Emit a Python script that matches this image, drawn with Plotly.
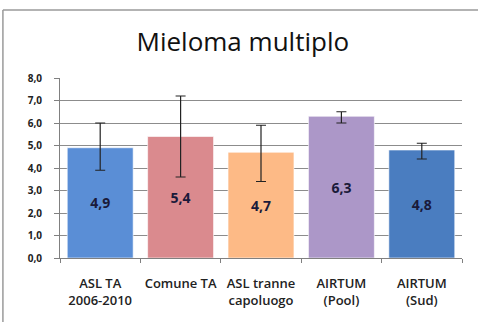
import plotly.graph_objects as go

categorie = ['ASL TA<br>2006-2010', 'Comune TA', 'ASL tranne<br>capoluogo', 'AIRTUM<br>(Pool)', 'AIRTUM<br>(Sud)']
valori = [4.9, 5.4, 4.7, 6.3, 4.8]
ic_inf = [3.9, 3.6, 3.4, 6.0, 4.4]
ic_sup = [6.0, 7.2, 5.9, 6.5, 5.1]
colori = ['#5A8ED6', '#DA8A8E', '#FDBA86', '#AC97C8', '#4A7DC0']

err_piu = [s - v for s, v in zip(ic_sup, valori)]
err_meno = [v - i for v, i in zip(valori, ic_inf)]

fig = go.Figure()

fig.add_trace(go.Bar(
    x=categorie,
    y=valori,
    marker={'color': colori, 'line': {'color': 'rgba(255,255,255,0.6)', 'width': 1}},
    text=[('%.1f' % v).replace('.', ',') for v in valori],
    textposition='inside',
    insidetextanchor='middle',
    textangle=0,
    textfont={'family': 'Open Sans', 'size': 14, 'color': '#1A1A3A', 'weight': 'bold'},
    error_y={'type': 'data', 'symmetric': False, 'array': err_piu, 'arrayminus': err_meno,
             'color': '#222222', 'thickness': 1.2, 'width': 5},
    hoverinfo='skip'
))

# cornice del grafico (solo lato superiore e sinistro visibili)
cornice = {'color': '#9A9A9A', 'width': 1.5}
fig.add_shape(type='line', xref='paper', yref='paper',
              x0=-0.142, x1=1.1, y0=1.378, y1=1.378, line=cornice, layer='below')
fig.add_shape(type='line', xref='paper', yref='paper',
              x0=-0.142, x1=-0.142, y0=-0.356, y1=1.378, line=cornice, layer='below')

fig.update_layout(
    width=478, height=325,
    margin={'l': 60, 'r': 16, 't': 78, 'b': 67},
    paper_bgcolor='white',
    plot_bgcolor='white',
    separators=',.',
    showlegend=False,
    bargap=0.18,
    title={'text': 'Mieloma multiplo', 'x': 0.508, 'xanchor': 'center', 'y': 0.872, 'yanchor': 'middle',
           'font': {'family': 'Open Sans', 'size': 26, 'color': '#111111'}},
    xaxis={
        'showline': True, 'linecolor': '#808080', 'linewidth': 1,
        'ticks': 'outside', 'ticklen': 4, 'tickcolor': '#808080',
        'tickson': 'boundaries', 'ticklabelstandoff': 13, 'tickangle': 0,
        'tickfont': {'family': 'Open Sans', 'size': 13, 'color': '#222222', 'weight': 600},
        'showgrid': False,
    },
    yaxis={
        'range': [0, 8], 'dtick': 1, 'tickformat': '.1f',
        'showline': True, 'linecolor': '#808080', 'linewidth': 1,
        'ticks': 'outside', 'ticklen': 5, 'tickcolor': '#808080',
        'ticklabelstandoff': 10,
        'showgrid': True, 'gridcolor': '#8C8C8C', 'gridwidth': 1,
        'tickfont': {'family': 'Open Sans', 'size': 10, 'color': '#222222', 'weight': 'bold'},
        'zeroline': False,
    },
)

fig.write_html('out.html', config={'displayModeBar': False},
               post_script="document.body.style.margin='0';")
